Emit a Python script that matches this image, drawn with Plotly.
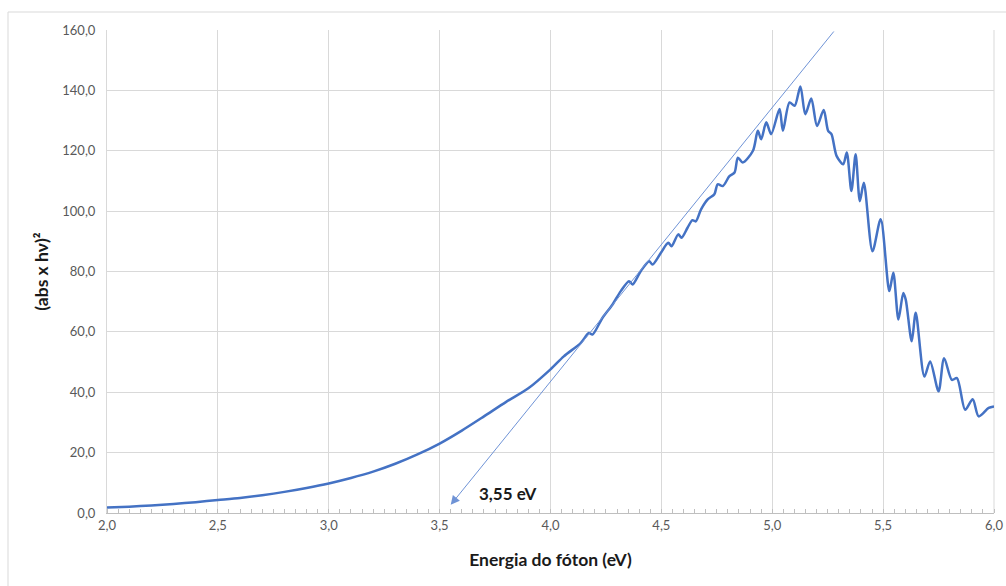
import plotly.graph_objects as go

# Photon energy (eV) and (abs x h nu)^2
energy = [2.00, 2.10, 2.20, 2.30, 2.40, 2.50, 2.60, 2.70, 2.80, 2.90,
          3.00, 3.10, 3.20, 3.30, 3.40, 3.50, 3.60, 3.70, 3.80, 3.90,
          4.00, 4.06, 4.136, 4.173, 4.189, 4.234, 4.279, 4.317, 4.354, 4.370,
          4.407, 4.445, 4.460, 4.498, 4.531, 4.546, 4.576, 4.591, 4.618, 4.640,
          4.655, 4.679, 4.709, 4.739, 4.754, 4.777, 4.807, 4.830, 4.845, 4.867,
          4.913, 4.935, 4.950, 4.973, 4.995, 5.033, 5.048, 5.078, 5.101, 5.127,
          5.149, 5.176, 5.202, 5.232, 5.252, 5.267, 5.290, 5.320, 5.336, 5.357,
          5.376, 5.395, 5.413, 5.452, 5.489, 5.528, 5.546, 5.569, 5.591, 5.602,
          5.629, 5.647, 5.686, 5.712, 5.750, 5.775, 5.810, 5.833, 5.870, 5.904,
          5.931, 5.976, 6.000]
absorb2 = [1.8, 2.1, 2.5, 3.0, 3.6, 4.3, 5.0, 5.9, 7.0, 8.3,
           9.8, 11.6, 13.7, 16.3, 19.4, 23.0, 27.3, 32.0, 36.8, 41.3,
           47.6, 51.9, 56.3, 59.6, 59.1, 64.6, 69.0, 73.5, 76.8, 75.7,
           80.1, 83.4, 82.3, 86.2, 89.5, 88.4, 92.3, 91.2, 94.5, 97.0,
           96.6, 100.6, 103.9, 105.6, 108.9, 108.3, 111.6, 112.8, 117.7, 116.1,
           120.0, 126.6, 123.8, 129.4, 125.5, 133.8, 126.6, 136.0, 134.9, 141.3,
           132.1, 137.3, 128.2, 133.5, 126.6, 125.5, 118.3, 115.5, 119.4, 106.7,
           118.8, 103.3, 109.4, 86.7, 97.3, 73.5, 79.6, 64.1, 72.9, 70.7,
           56.9, 66.3, 45.2, 50.2, 40.3, 51.3, 44.1, 44.7, 34.2, 37.7,
           32.0, 34.8, 35.3]

# Tangent (Tauc) line: from top of plot down to the band gap
tangent_start = (5.283, 160.0)
tangent_end = (3.55, 2.7)
gap_label = "3,55 eV"

x_ticks = [2.0, 2.5, 3.0, 3.5, 4.0, 4.5, 5.0, 5.5, 6.0]
y_ticks = [0, 20, 40, 60, 80, 100, 120, 140, 160]

FONT = "Lato, Open Sans, sans-serif"

fig = go.Figure()
fig.add_trace(go.Scatter(
    x=energy, y=absorb2, mode="lines",
    line=dict(color="#4472C4", width=2.5, shape="spline", smoothing=0.8),
    showlegend=False, hoverinfo="skip"))

fig.add_annotation(
    x=tangent_end[0], y=tangent_end[1], xref="x", yref="y",
    ax=tangent_start[0], ay=tangent_start[1], axref="x", ayref="y",
    text="", showarrow=True, arrowhead=2, arrowsize=1.8, arrowwidth=1,
    arrowcolor="#6F93D6")

fig.add_annotation(
    x=3.806, y=6.4, xref="x", yref="y", text="<b>" + gap_label + "</b>",
    showarrow=False, font=dict(family=FONT, size=17, color="#1a1a1a"))

# Outer chart border
fig.add_shape(type="rect", xref="paper", yref="paper",
              x0=(8 - 107) / 887, x1=(1012 - 107) / 887,
              y0=(513 - 600) / 483, y1=(513 - 12) / 483,
              line=dict(color="#D9D9D9", width=1), fillcolor="rgba(0,0,0,0)",
              layer="below")
fig.add_shape(type="line", xref="paper", yref="paper", x0=1, x1=1, y0=0, y1=1,
              line=dict(color="#D9D9D9", width=1), layer="below")

fig.update_layout(
    width=1006, height=586,
    margin=dict(l=107, r=12, t=30, b=73, autoexpand=False),
    paper_bgcolor="white", plot_bgcolor="white",
    separators=",.",
    font=dict(family=FONT, color="#595959", size=13),
    xaxis=dict(
        range=[2.0, 6.0], tickvals=x_ticks, tickformat=".1f",
        showgrid=True, gridcolor="#D9D9D9", gridwidth=1,
        showline=True, linecolor="#BFBFBF", linewidth=1,
        ticks="", zeroline=False, automargin=False,
        minor=dict(dtick=0.05, ticks="inside", ticklen=4, tickcolor="#BFBFBF", showgrid=False),
        tickfont=dict(size=13, color="#595959"),
        title=dict(text="<b>Energia do fóton (eV)</b>", standoff=22,
                   font=dict(size=17.5, color="#1a1a1a"))),
    yaxis=dict(
        range=[0, 160], tickvals=y_ticks, tickformat=".1f",
        showgrid=True, gridcolor="#D9D9D9", gridwidth=1,
        showline=True, linecolor="#D9D9D9", linewidth=1,
        ticks="", zeroline=False, ticklabelstandoff=8, automargin=False,
        tickfont=dict(size=13, color="#595959"),
        title=dict(text="<b>(abs x hν)²</b>", standoff=9,
                   font=dict(size=17.5, color="#1a1a1a"))),
)

fig.write_html("out.html")
